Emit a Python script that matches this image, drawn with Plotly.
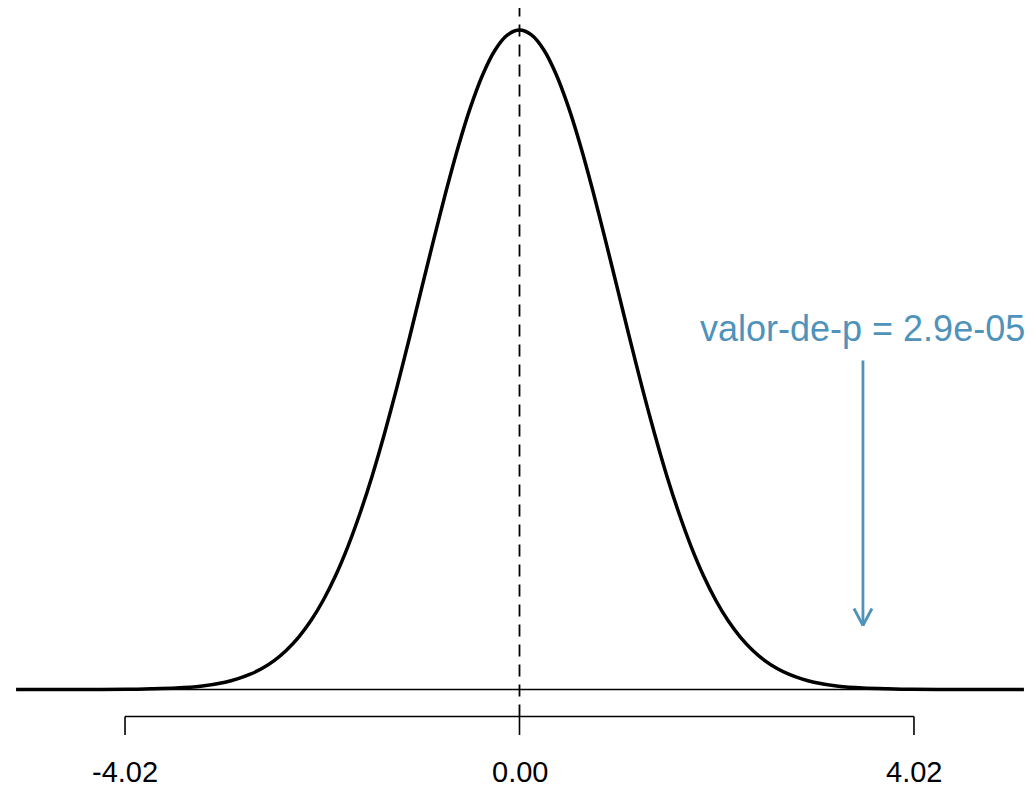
import plotly.graph_objects as go

# density curve points
curve_x = [-5.13, -4.5, -4.0, -3.75, -3.5, -3.25, -3.0, -2.875, -2.75, -2.625, -2.5, -2.375,
           -2.25, -2.125, -2.0, -1.875, -1.75, -1.625, -1.5, -1.375, -1.25, -1.125, -1.0,
           -0.875, -0.75, -0.625, -0.5, -0.375, -0.25, -0.125, 0.0, 0.125, 0.25, 0.375, 0.5,
           0.625, 0.75, 0.875, 1.0, 1.125, 1.25, 1.375, 1.5, 1.625, 1.75, 1.875, 2.0, 2.125,
           2.25, 2.375, 2.5, 2.625, 2.75, 2.875, 3.0, 3.25, 3.5, 3.75, 4.0, 4.5, 5.14]
curve_y = [0.0, 0.0, 0.0001, 0.0004, 0.0009, 0.0020, 0.0044, 0.0064, 0.0091, 0.0127, 0.0175,
           0.0238, 0.0317, 0.0417, 0.0540, 0.0688, 0.0863, 0.1066, 0.1295, 0.1550, 0.1826,
           0.2119, 0.2420, 0.2720, 0.3011, 0.3282, 0.3521, 0.3719, 0.3867, 0.3958, 0.3989,
           0.3958, 0.3867, 0.3719, 0.3521, 0.3282, 0.3011, 0.2720, 0.2420, 0.2119, 0.1826,
           0.1550, 0.1295, 0.1066, 0.0863, 0.0688, 0.0540, 0.0417, 0.0317, 0.0238, 0.0175,
           0.0127, 0.0091, 0.0064, 0.0044, 0.0020, 0.0009, 0.0004, 0.0001, 0.0, 0.0]

tick_values = [-4.02, 0.00, 4.02]
tick_labels = ["-4.02", "0.00", "4.02"]

pvalue_label = "valor-de-p = 2.9e-05"
arrow_x = 3.5
arrow_tip = 0.0387
arrow_tail = 0.199
label_y = 0.2181

x_range = [-5.2125, 5.2329]
y_range = [-0.0614, 0.41225]
axis_y = -0.0163
tick_end = -0.0275
label_tick_y = -0.0499

blue = "#4F93BA"
font_family = "Liberation Sans, Arial, sans-serif"

fig = go.Figure()

# thin baseline
fig.add_trace(go.Scatter(x=[curve_x[0], curve_x[-1]], y=[0, 0], mode="lines",
                         line=dict(color="black", width=1.3), hoverinfo="skip"))
# density curve
fig.add_trace(go.Scatter(x=curve_x, y=curve_y, mode="lines",
                         line=dict(color="black", width=3.5, shape="spline", smoothing=0.8),
                         hoverinfo="skip"))

shapes = []
# dashed centre line
shapes.append(dict(type="line", x0=0, x1=0, y0=axis_y, y1=y_range[1], xref="x", yref="y",
                   line=dict(color="black", width=1.8, dash="12px,8px"), layer="below"))
# axis line
shapes.append(dict(type="line", x0=tick_values[0], x1=tick_values[-1], y0=axis_y, y1=axis_y,
                   xref="x", yref="y", line=dict(color="black", width=1.6)))
for tv in tick_values:
    shapes.append(dict(type="line", x0=tv, x1=tv, y0=axis_y, y1=tick_end, xref="x", yref="y",
                       line=dict(color="black", width=1.6)))
# arrow shaft
shapes.append(dict(type="line", x0=arrow_x, x1=arrow_x, y0=arrow_tail, y1=arrow_tip,
                   xref="x", yref="y", line=dict(color=blue, width=2.8)))
# arrow head (open V)
for dx in (-9, 9):
    shapes.append(dict(type="line", xref="x", yref="y", xsizemode="pixel", ysizemode="pixel",
                       xanchor=arrow_x, yanchor=arrow_tip, x0=0, y0=0, x1=dx, y1=17,
                       line=dict(color=blue, width=2.8)))

annotations = []
for tv, tl in zip(tick_values, tick_labels):
    annotations.append(dict(x=tv, y=label_tick_y, xref="x", yref="y", text=tl, showarrow=False,
                            font=dict(family=font_family, size=29, color="black"),
                            xanchor="center", yanchor="middle"))
annotations.append(dict(x=arrow_x, y=label_y, xref="x", yref="y", text=pvalue_label,
                        showarrow=False, font=dict(family=font_family, size=36, color=blue),
                        xanchor="center", yanchor="middle"))

# the page adds an 8px body margin, so the figure is sized to the visible area
fig.update_layout(
    width=1025, height=783,
    margin=dict(l=0, r=0, t=0, b=0),
    paper_bgcolor="white", plot_bgcolor="white",
    showlegend=False,
    xaxis=dict(range=x_range, visible=False, showgrid=False, zeroline=False),
    yaxis=dict(range=y_range, visible=False, showgrid=False, zeroline=False),
    shapes=shapes, annotations=annotations,
)

fig.write_html("out.html")
